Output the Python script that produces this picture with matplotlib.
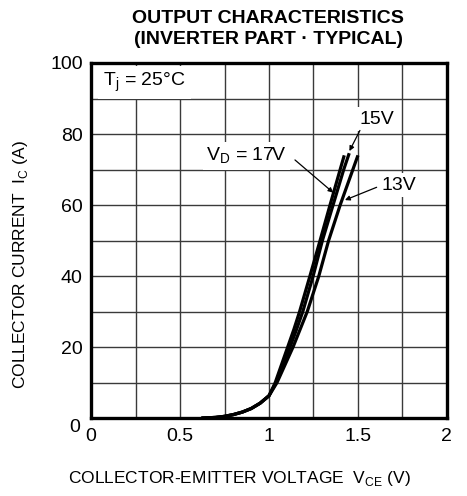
import numpy as np
import matplotlib.pyplot as plt
from matplotlib.transforms import ScaledTranslation

plt.rcParams['font.family'] = ['Liberation Sans', 'DejaVu Sans']
plt.rcParams['mathtext.fontset'] = 'custom'
plt.rcParams['mathtext.rm'] = 'Liberation Sans'

# values (Vce in V, Ic in A)
vce_17 = [0.62, 0.70, 0.75, 0.80, 0.85, 0.90, 0.95, 1.00, 1.035, 1.07, 1.105, 1.14, 1.172, 1.23, 1.287, 1.343, 1.40, 1.423]
ic_17 = [0.0, 0.2, 0.5, 1.0, 1.7, 2.7, 4.2, 6.3, 10.0, 15.0, 20.0, 25.0, 30.0, 40.0, 50.0, 60.0, 70.0, 74.0]
vce_15 = [0.62, 0.70, 0.75, 0.80, 0.85, 0.90, 0.95, 1.00, 1.04, 1.08, 1.118, 1.155, 1.19, 1.248, 1.30, 1.36, 1.42, 1.451]
ic_15 = [0.0, 0.2, 0.5, 1.0, 1.7, 2.7, 4.2, 6.3, 10.0, 15.0, 20.0, 25.0, 30.0, 40.0, 50.0, 60.0, 70.0, 74.6]
vce_13 = [0.62, 0.70, 0.75, 0.80, 0.85, 0.90, 0.95, 1.00, 1.045, 1.09, 1.135, 1.175, 1.215, 1.28, 1.335, 1.40, 1.45, 1.50]
ic_13 = [0.0, 0.2, 0.5, 1.0, 1.7, 2.7, 4.2, 6.3, 10.0, 15.0, 20.0, 25.0, 30.0, 40.0, 50.0, 60.0, 67.0, 74.0]

x_ticks = [0, 0.5, 1, 1.5, 2]
x_ticklabels = ['0', '0.5', '1', '1.5', '2']
y_ticks = [0, 20, 40, 60, 80, 100]

fig = plt.figure(figsize=(4.67, 4.96), dpi=100)
ax = fig.add_axes([0.195, 0.157, 0.762, 0.716])

ax.set_xlim(0, 2)
ax.set_ylim(0, 100)
ax.set_xticks(np.arange(0, 2.01, 0.25), minor=True)
ax.set_yticks(np.arange(0, 101, 10), minor=True)
ax.set_xticks(x_ticks)
ax.set_xticklabels(x_ticklabels)
ax.set_yticks(y_ticks)
ax.grid(True, which='both', color='#3a3a3a', lw=1.0)
ax.tick_params(which='both', length=0, labelsize=14)
ax.tick_params(axis='x', pad=7)
ax.tick_params(axis='y', pad=6)
for s in ax.spines.values():
    s.set_linewidth(2.4)
    s.set_zorder(5)

for v, i in [(vce_17, ic_17), (vce_15, ic_15), (vce_13, ic_13)]:
    ax.plot(v, i, color='black', lw=2.3, solid_capstyle='butt', zorder=3)

# the y "0" sits just below the axis line
lab0 = ax.get_yticklabels()[0]
lab0.set_va('top')
lab0.set_transform(lab0.get_transform() + ScaledTranslation(-0.03, -0.01, fig.dpi_scale_trans))

ax.text(0.067, 94.6, r'T$_\mathregular{j}$ = 25°C', fontsize=14, va='center', ha='left',
        bbox=dict(facecolor='white', edgecolor='none', pad=3.5), zorder=4)

bb = dict(facecolor='white', edgecolor='none', pad=2.5)
arr = dict(arrowstyle='-|>', color='black', lw=0.9, mutation_scale=7, shrinkA=0, shrinkB=0)
ax.text(1.10, 73.8, r'V$_\mathregular{D}$ = 17V', fontsize=14, ha='right', va='center', bbox=bb, zorder=4)
ax.annotate('', xy=(1.361, 63.5), xytext=(1.146, 72.7), arrowprops=arr, zorder=4)
ax.text(1.51, 84.2, '15V', fontsize=14, ha='left', va='center', bbox=bb, zorder=4)
ax.annotate('', xy=(1.452, 75.2), xytext=(1.511, 81.0), arrowprops=arr, zorder=4)
ax.text(1.635, 65.6, '13V', fontsize=14, ha='left', va='center', bbox=bb, zorder=4)
ax.annotate('', xy=(1.427, 61.4), xytext=(1.605, 65.0), arrowprops=arr, zorder=4)

fig.text(0.574, 0.979, 'OUTPUT CHARACTERISTICS\n(INVERTER PART · TYPICAL)',
         ha='center', va='top', fontsize=14, fontweight='bold', linespacing=1.25)
fig.text(0.043, 0.467, r'COLLECTOR CURRENT  I$_\mathregular{C}$ (A)', rotation=90,
         ha='center', va='center', fontsize=12.5)
fig.text(0.512, 0.036, r'COLLECTOR-EMITTER VOLTAGE  V$_\mathregular{CE}$ (V)',
         ha='center', va='center', fontsize=12.5)

fig.savefig('out.png', dpi=100)
